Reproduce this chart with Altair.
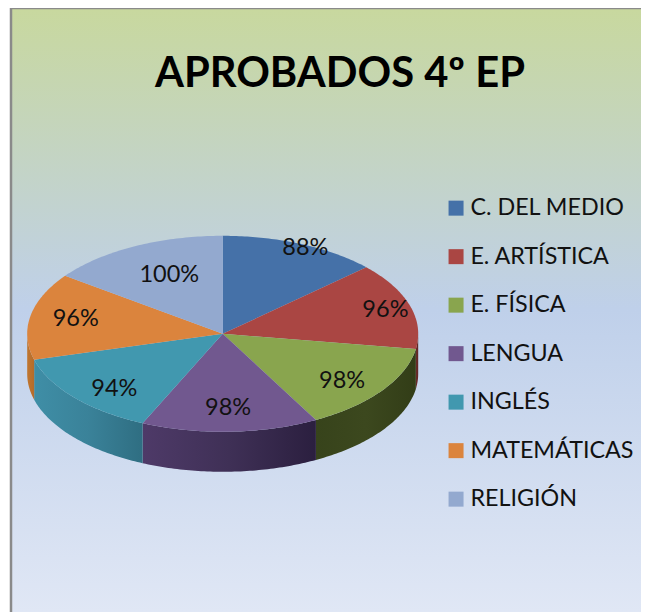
import numpy as np
import pandas as pd
import altair as alt

TITLE = "APROBADOS 4º EP"
SUBJECTS = ["C. DEL MEDIO", "E. ARTÍSTICA", "E. FÍSICA", "LENGUA", "INGLÉS", "MATEMÁTICAS", "RELIGIÓN"]
VALUES = [88, 96, 98, 98, 94, 96, 100]
COLORS = ["#4571A8", "#AA4643", "#89A54E", "#71588F", "#4198AF", "#DB843D", "#93A9CF"]
WALL_STOPS = [
    ["#4571A8", "#4571A8"],
    ["#6B2C2A", "#5E2624"],
    ["#37431B", "#3C481E", "#323D17"],
    ["#4E3A68", "#3F3056", "#2B1F3F"],
    ["#3F8EA6", "#3A8299", "#2F6E82"],
    ["#C0762F", "#B56C2A"],
    ["#93A9CF", "#93A9CF"],
]
# how far out each percentage sits on its slice (1 = rim), plus a small hand nudge in pixels
LABEL_RADII = [0.99, 0.87, 0.76, 0.74, 0.75, 0.77, 0.65]
LABEL_DX = [5, 0, -2, 0, 3, 1, 4]
LABEL_DY = [3, 1, 4, 2, 7, -1, -2]

W, H = 633, 604
CX, CY, RX, RY, DEPTH = 214.7, 325.8, 195.5, 98.0, 40.0
x_scale = alt.Scale(domain=[-CX / RX, (W - CX) / RX], range=[0, W], nice=False, zero=False)
y_scale = alt.Scale(domain=[(CY - H) / RY, CY / RY], range=[H, 0], nice=False, zero=False)
X = lambda f: alt.X(f, type="quantitative", scale=x_scale, axis=None)
Y = lambda f: alt.Y(f, type="quantitative", scale=y_scale, axis=None)

total = sum(VALUES)
edges = np.cumsum([0] + VALUES) / total * 2 * np.pi

# Slice tops
rows = []
for name, a0, a1 in zip(SUBJECTS, edges[:-1], edges[1:]):
    rows.append(dict(subject=name, i=0, u=0.0, v=0.0))
    for i, a in enumerate(np.linspace(a0, a1, 60)):
        rows.append(dict(subject=name, i=i + 1, u=np.sin(a), v=np.cos(a)))
    rows.append(dict(subject=name, i=62, u=0.0, v=0.0))
tops = pd.DataFrame(rows)

top_layer = alt.Chart(tops).mark_line(filled=True, strokeWidth=0).encode(
    x=X("u"), y=Y("v"),
    detail="subject:N",
    order=alt.Order("i:Q"),
    fill=alt.Fill(
        "subject:N",
        scale=alt.Scale(domain=SUBJECTS, range=COLORS),
        legend=alt.Legend(
            title=None, orient="none", legendX=436.4, legendY=188.5,
            symbolType="square", symbolSize=225, symbolStrokeWidth=0, symbolOpacity=1,
            labelFont="Lato", labelFontSize=23.3, labelColor="#111111", labelOffset=2.7,
            rowPadding=24.5, labelLimit=200,
        ),
    ),
)

# Side walls: only the front half of the rim is visible
walls = []
for k, (a0, a1) in enumerate(zip(edges[:-1], edges[1:])):
    lo, hi = max(a0, np.pi / 2), min(a1, 3 * np.pi / 2)
    if hi <= lo:
        continue
    a = np.linspace(lo, hi, 60)
    d = pd.DataFrame(dict(u=np.sin(a), v=np.cos(a), v2=np.cos(a) - DEPTH / RY))
    cols = WALL_STOPS[k]
    stops = [alt.GradientStop(offset=j / (len(cols) - 1), color=c) for j, c in enumerate(cols)]
    walls.append(
        alt.Chart(d).mark_area(
            fill=alt.LinearGradient(gradient="linear", stops=stops, x1=0, x2=1, y1=0, y2=0)
        ).encode(x=X("u"), y=Y("v"), y2="v2:Q")
    )

# Background panel
panel = alt.Chart(pd.DataFrame({"a": [0]})).mark_rect(
    fill=alt.LinearGradient(
        gradient="linear",
        stops=[
            alt.GradientStop(offset=0, color="#C8D89E"),
            alt.GradientStop(offset=0.5, color="#BFD0EA"),
            alt.GradientStop(offset=1, color="#E0E7F5"),
        ],
        x1=0, x2=0, y1=0, y2=1,
    )
).encode(x=alt.value(3), x2=alt.value(W), y=alt.value(0), y2=alt.value(H))

frame_left = alt.Chart(pd.DataFrame({"a": [0]})).mark_rule(color="#8A8A8A", strokeWidth=2.5).encode(
    x=alt.value(3), y=alt.value(0), y2=alt.value(H)
)
frame_top = alt.Chart(pd.DataFrame({"a": [0]})).mark_rule(color="#8A8A8A", strokeWidth=1.5).encode(
    x=alt.value(3), x2=alt.value(W), y=alt.value(0.5)
)

title = alt.Chart(pd.DataFrame({"t": [TITLE]})).mark_text(
    font="Lato", fontSize=41.7, fontWeight="bold", color="#000000", align="center", baseline="alphabetic"
).encode(x=alt.value(332), y=alt.value(79), text="t:N")

# Percentage labels
mids = (edges[:-1] + edges[1:]) / 2
labels = pd.DataFrame(dict(
    u=np.sin(mids) * LABEL_RADII + np.array(LABEL_DX) / RX,
    v=np.cos(mids) * LABEL_RADII - np.array(LABEL_DY) / RY,
    t=[f"{v}%" for v in VALUES],
))
label_layer = alt.Chart(labels).mark_text(
    font="Lato", fontSize=23.5, color="#111111", align="center", baseline="middle"
).encode(x=X("u"), y=Y("v"), text="t:N")

chart = alt.layer(panel, frame_left, frame_top, title, *walls, top_layer, label_layer).properties(
    width=W, height=H, padding=0, autosize=alt.AutoSizeParams(type="none"),
).configure_view(stroke=None)

chart.save("out.html", embed_options={"renderer": "svg", "actions": False})
